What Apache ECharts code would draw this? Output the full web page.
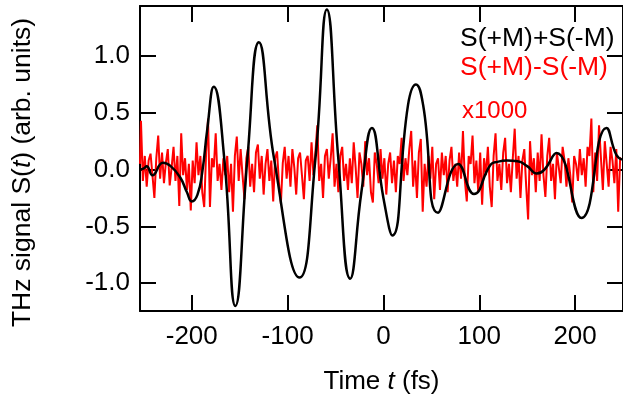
<!DOCTYPE html>
<html><head><meta charset="utf-8">
<script src="https://cdn.jsdelivr.net/npm/echarts@6/dist/echarts.min.js"></script>
<style>html,body{margin:0;padding:0;background:#fff}#c{width:623px;height:403px}</style>
</head><body><div id="c"></div>
<script>
// ---- data ----
const sumT = [-254,-250,-247,-241,-230,-222,-212,-205,-200,-194,-189,-184,-177,-166,-154.5,-142,-130,-114,-87.5,-71,-59,-47,-34.7,-23,-12,0,9.4,25.7,34,41.4,57,78,94.5,112,119,129,140,150,160,168,180.6,206.7,232.7,243,249];
const sumV = [0.0,0.01,0.03,-0.05,0.06,0.03,-0.07,-0.2,-0.28,-0.22,-0.02,0.34,0.73,0.09,-1.2,0.09,1.12,0.09,-0.95,0.09,1.41,0.09,-0.96,-0.2,0.367,-0.25,-0.58,0.57,0.75,0.57,-0.38,0.05,-0.215,0.044,0.068,0.079,0.073,0.03,-0.035,0.0,0.147,-0.426,0.367,0.13,0.088];
const diffStart = -254, diffStep = 2;
const diffV = [
0.05,0.43,-0.1,0.12,-0.15,0.08,0.14,-0.05,-0.25,0.1,
0.3,-0.08,0.15,-0.12,0.06,0.18,-0.14,0.02,0.2,-0.1,
0.12,-0.32,0.32,-0.05,0.1,-0.18,0.05,-0.36,0.08,-0.12,
0.24,-0.05,0.12,-0.2,-0.33,0.15,0.45,-0.33,0.1,0.02,
0.32,-0.1,0.05,-0.18,0.1,-0.05,0.12,-0.2,0.05,-0.37,
0.12,0.29,-0.1,0.18,-0.05,-0.26,0.1,0.2,-0.15,0.05,
-0.2,0.15,0.22,-0.08,0.12,-0.22,0.05,0.18,-0.1,0.08,
-0.28,0.1,0.16,-0.12,-0.3,0.06,0.2,-0.08,0.12,-0.15,
0.18,0.02,-0.22,0.1,0.15,-0.05,-0.26,0.08,0.12,-0.1,
0.24,-0.05,0.15,0.39,-0.1,0.05,-0.25,0.12,0.18,-0.08,
0.1,0.32,-0.15,0.05,-0.2,0.12,0.2,-0.1,0.05,-0.18,
0.1,-0.12,0.24,0.02,-0.25,0.15,0.05,-0.15,0.25,-0.05,
0.1,-0.2,-0.29,0.15,0.05,-0.12,0.18,-0.08,0.1,-0.22,
0.05,0.15,-0.12,0.08,-0.2,0.12,0.05,0.28,-0.1,0.1,
-0.05,0.18,0.34,-0.15,0.08,-0.25,0.15,0.27,-0.37,0.05,
-0.15,0.12,-0.08,0.2,-0.26,0.05,0.1,-0.18,0.15,-0.05,
0.12,-0.2,0.08,0.2,-0.1,0.05,-0.15,0.15,-0.08,0.34,
-0.1,-0.28,0.12,0.05,0.3,-0.12,0.08,-0.2,0.15,-0.31,
0.1,-0.05,0.2,-0.15,-0.33,0.12,0.32,-0.1,0.05,-0.18,
0.15,0.28,-0.12,0.05,-0.2,0.1,0.36,-0.08,0.12,-0.25,
0.08,0.18,-0.15,-0.44,0.25,-0.05,0.1,-0.2,0.15,-0.1,
0.31,-0.05,-0.24,0.12,0.28,-0.1,0.05,-0.26,0.15,0.02,
-0.12,0.2,0.08,-0.15,0.1,-0.05,-0.29,0.12,0.05,-0.1,
0.18,-0.05,0.1,-0.15,0.2,0.12,0.45,-0.2,0.15,-0.1,
0.39,0.1,-0.18,0.25,0.05,-0.15,0.2,0.08,-0.12,0.18,-0.37,0.1];
const xTicks = [-200,-100,0,100,200];
const yTicks = [-1.0,-0.5,0.0,0.5,1.0];
const seriesNames = ['S(+M)+S(-M)','S(+M)-S(-M)'];
const scaleNote = 'x1000';

// ---- chart ----
const FF = '"Liberation Sans", Arial, sans-serif';
const sumData = sumT.map((t,i)=>[t,sumV[i]]);
const diffData = diffV.map((v,i)=>[diffStart+i*diffStep, v]);
const line = {show:true, onZero:false, lineStyle:{color:'#000', width:2}};
const tick = (vals)=>({show:true, inside:true, length:16, customValues:vals, lineStyle:{color:'#000', width:2}});
const XMIN=-254, XMAX=250, YMIN=-1.245, YMAX=1.44;
const TS = 26;
const chart = echarts.init(document.getElementById('c'), null, {renderer:'canvas'});
chart.setOption({
  animation:false,
  backgroundColor:'#fff',
  grid:{left:140, top:6, width:484, height:305, containLabel:false},
  xAxis:[
    {type:'value', min:XMIN, max:XMAX, position:'bottom', axisLine:line, axisTick:tick(xTicks),
     splitLine:{show:false}, minorTick:{show:false},
     axisLabel:{customValues:xTicks, color:'#000', fontSize:TS, fontFamily:FF, margin:13, formatter:v=>String(v)},
     name:'{n|Time }{i|t}{n| (fs)}', nameLocation:'middle', nameGap:58,
     nameTextStyle:{rich:{n:{fontSize:26, fontFamily:FF, color:'#000'}, i:{fontSize:26, fontFamily:FF, color:'#000', fontStyle:'italic'}}}},
    {type:'value', min:XMIN, max:XMAX, position:'top', axisLine:line, axisTick:tick(xTicks),
     splitLine:{show:false}, axisLabel:{show:false}}
  ],
  yAxis:[
    {type:'value', min:YMIN, max:YMAX, position:'left', axisLine:line, axisTick:tick(yTicks),
     splitLine:{show:false},
     axisLabel:{customValues:yTicks, color:'#000', fontSize:TS, fontFamily:FF, margin:10, formatter:v=>v.toFixed(1)},
     name:'{n|THz signal S(}{i|t}{n|) (arb. units)}', nameLocation:'middle', nameGap:104, nameRotate:90,
     nameTextStyle:{padding:[0,28,0,0], rich:{n:{fontSize:26.5, fontFamily:FF, color:'#000'}, i:{fontSize:26.5, fontFamily:FF, color:'#000', fontStyle:'italic'}}}},
    {type:'value', min:YMIN, max:YMAX, position:'right', axisLine:line, axisTick:tick(yTicks),
     splitLine:{show:false}, axisLabel:{show:false}}
  ],
  series:[
    {name:seriesNames[1], type:'line', data:diffData, showSymbol:false, symbol:'none', z:2, step:'middle',
     lineStyle:{color:'#ff0000', width:2}},
    {name:seriesNames[0], type:'line', data:sumData, showSymbol:false, symbol:'none', smooth:0.5, z:3,
     lineStyle:{color:'#000', width:2.5}}
  ],
  graphic:[
    {type:'text', x:460, y:39, z:10, style:{text:seriesNames[0], fill:'#000', fontSize:26.5, fontFamily:FF, verticalAlign:'middle', textVerticalAlign:'middle'}},
    {type:'text', x:460, y:68, z:10, style:{text:seriesNames[1], fill:'#ff0000', fontSize:26.5, fontFamily:FF, verticalAlign:'middle', textVerticalAlign:'middle'}},
    {type:'text', x:462, y:111, z:10, style:{text:scaleNote, fill:'#ff0000', fontSize:24, fontFamily:FF, verticalAlign:'middle', textVerticalAlign:'middle'}}
  ]
});
</script></body></html>
